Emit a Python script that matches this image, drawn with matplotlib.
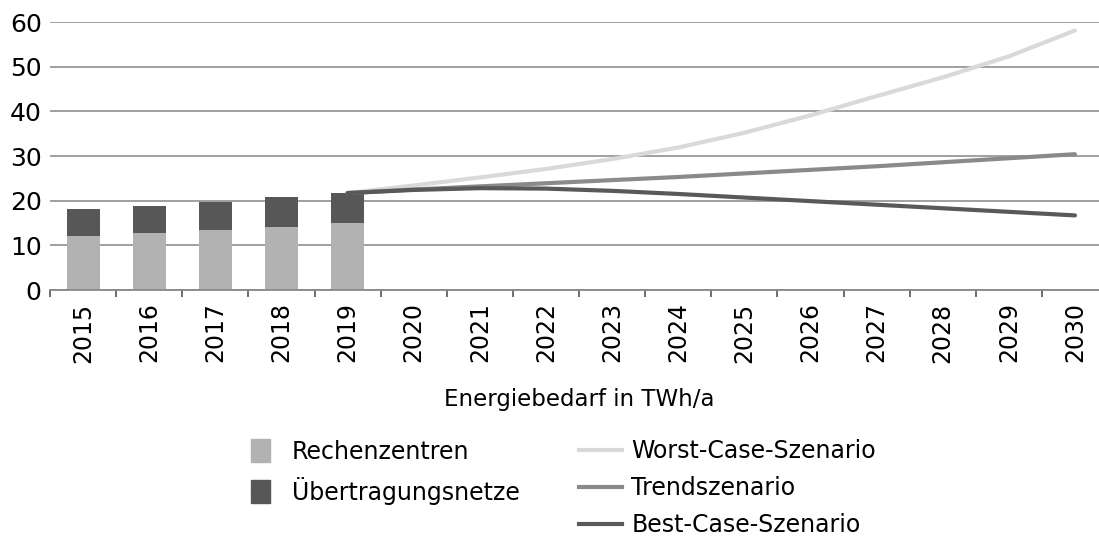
import numpy as np
import matplotlib.pyplot as plt
from matplotlib.patches import Patch
from matplotlib.lines import Line2D

plt.rcParams['font.family'] = ['DejaVu Sans']

years = [str(y) for y in range(2015, 2031)]

# bars 2015-2019
bar_years = ['2015', '2016', '2017', '2018', '2019']
rechenzentren = [12.0, 12.65, 13.4, 14.0, 14.9]
netze = [6.1, 6.15, 6.3, 6.8, 6.8]

# scenarios 2019-2030
scen_years = [str(y) for y in range(2019, 2031)]
worst = [21.7, 23.4, 25.2, 27.1, 29.3, 31.9, 35.2, 39.1, 43.4, 47.6, 52.3, 58.1]
trend = [21.7, 22.5, 23.2, 23.9, 24.6, 25.3, 26.1, 26.9, 27.7, 28.6, 29.5, 30.4]
best = [21.7, 22.4, 22.8, 22.7, 22.2, 21.5, 20.7, 19.9, 19.1, 18.3, 17.5, 16.7]

c_light = '#b2b2b2'
c_dark = '#575757'
c_worst = '#d9d9d9'
c_trend = '#8a8a8a'
c_best = '#595959'

fig = plt.figure(figsize=(10.99, 5.36), dpi=100)
ax = fig.add_axes([50/1099, (536-290)/536, 1058/1099, 268/536])

xb = [years.index(y) for y in bar_years]
ax.bar(xb, rechenzentren, width=0.5, color=c_light, zorder=2)
ax.bar(xb, netze, width=0.5, bottom=rechenzentren, color=c_dark, zorder=2)

xs = [years.index(y) for y in scen_years]
ax.plot(xs, worst, color=c_worst, lw=3, solid_capstyle='round', zorder=3)
ax.plot(xs, trend, color=c_trend, lw=3, solid_capstyle='round', zorder=3)
ax.plot(xs, best, color=c_best, lw=3, solid_capstyle='round', zorder=3)

ax.set_xlim(-0.5, len(years) - 0.5)
ax.set_ylim(0, 60)
ax.set_yticks(range(0, 61, 10))
ax.yaxis.grid(True, color='#999999', lw=1.3, zorder=0)
ax.set_axisbelow(True)

ax.set_xticks(range(len(years)))
ax.set_xticklabels(years, rotation=90)
ax.set_xticks(np.arange(-0.5, len(years), 1), minor=True)
ax.tick_params(axis='x', which='major', length=0, labelsize=17, pad=9)
ax.tick_params(axis='x', which='minor', length=5, width=1.2, color='#555555')
ax.tick_params(axis='y', length=0, labelsize=18, pad=6)

for s in ['top', 'right', 'left']:
    ax.spines[s].set_visible(False)
ax.spines['bottom'].set_color('#888888')
ax.spines['bottom'].set_linewidth(1.3)

ax.set_xlabel('Energiebedarf in TWh/a', fontsize=16.5, labelpad=18)

h1 = [Patch(color=c_light, label='Rechenzentren'),
      Patch(color=c_dark, label='Übertragungsnetze')]
fig.legend(handles=h1, loc='upper left', bbox_to_anchor=(242/1099, 1 - 430/536),
           frameon=False, fontsize=17, handlelength=0.8, handleheight=1.1,
           handletextpad=0.9, labelspacing=0.55, borderaxespad=0)
h2 = [Line2D([], [], color=c_worst, lw=3, label='Worst-Case-Szenario'),
      Line2D([], [], color=c_trend, lw=3, label='Trendszenario'),
      Line2D([], [], color=c_best, lw=3, label='Best-Case-Szenario')]
fig.legend(handles=h2, loc='upper left', bbox_to_anchor=(570/1099, 1 - 430/536),
           frameon=False, fontsize=17, handlelength=1.8, handletextpad=0.4,
           labelspacing=0.55, borderaxespad=0)

fig.savefig('out.png', dpi=100)
